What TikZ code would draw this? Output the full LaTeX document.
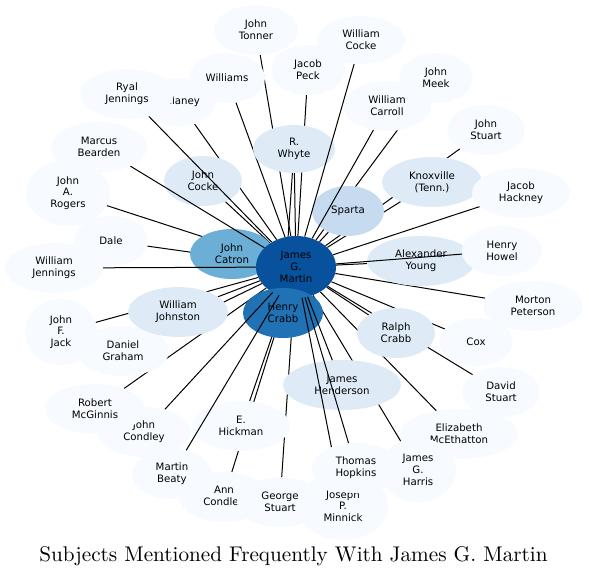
\documentclass[tikz,border=0pt]{standalone}
\usepackage{fontspec}
\newfontfamily\labelfont{DejaVu Sans}
\newfontfamily\titlefont{lmroman10-regular}[Extension=.otf]
\usetikzlibrary{shapes.geometric}
\pgfdeclarelayer{edgelow}
\pgfdeclarelayer{nodelow}
\pgfdeclarelayer{edgehigh}
\pgfsetlayers{edgelow,nodelow,edgehigh,main}
\definecolor{blue0}{HTML}{F7FBFF}
\definecolor{blue1}{HTML}{DEEBF7}
\definecolor{blue2}{HTML}{C6DBEF}
\definecolor{blue4}{HTML}{6BAED6}
\definecolor{blue6}{HTML}{2171B5}
\definecolor{blue7}{HTML}{08519C}
\begin{document}
\begin{tikzpicture}[x=1pt, y=-1pt, line join=round, line cap=round,
	subject/.style={ellipse, inner sep=0pt, align=center, font=\labelfont\fontsize{10.2}{11.8}\selectfont},
	link/.style={line width=1pt}]
	\useasboundingbox (0,0) rectangle (589,577);
	% Các nút nằm dưới một số cạnh
	\begin{pgfonlayer}{nodelow}
	\foreach \n/\x/\y/\rx/\ry/\col/\txt in {
		delaney/179/102/37/24/blue0/Delaney, jcocke/203/181/39/25/blue1/{John\\Cocke},
		whyte/294/149/41/24/blue1/{R.\\Whyte}, carroll/387/106/44/25/blue0/{William\\Carroll},
		knox/432/182/50/25/blue1/{Knoxville\\(Tenn.)}, sparta/348/211/36/25/blue2/Sparta,
		catron/232/254/42/25/blue4/{John\\Catron}, young/421/261/54/25/blue1/{Alexander\\Young},
		graham/123/351/46/25/blue0/{Daniel\\Graham}, johnston/178/312/50/25/blue1/{William\\Johnston},
		rcrabb/396/333/39/25/blue1/{Ralph\\Crabb}, henderson/342/385/59/25/blue1/{James\\Henderson},
		hickman/241/426/49/25/blue0/{E.\\Hickman}, martin/296/267/40/31/blue7/{James\\G.\\Martin},
		hcrabb/283/313/40/25/blue6/{Henry\\Crabb}}
	\node[subject, fill=\col, minimum width=2*\rx, minimum height=2*\ry] (\n) at (\x,\y) {\txt};
	\end{pgfonlayer}
	% Các nút ngoài cùng
	\foreach \n/\x/\y/\rx/\ry/\txt in {
		tonner/256/30/42/25/{John\\Tonner}, wcocke/361/40/44/24/{William\\Cocke},
		peck/308/70/37/25/{Jacob\\Peck}, williams/227/78/38/25/Williams,
		meek/436/78/37/25/{John\\Meek}, ryal/127/94/47/25/{Ryal\\Jennings},
		bearden/99/147/48/25/{Marcus\\Bearden}, rogers/68/193/42/33/{John\\A.\\Rogers},
		jstuart/486/130/39/25/{John\\Stuart}, hackney/521/193/49/25/{Jacob\\Hackney},
		dale/111/241/37/25/Dale, wjennings/54/268/49/25/{William\\Jennings},
		howel/502/251/40/25/{Henry\\Howel}, peterson/533/306/50/25/{Morton\\Peterson},
		jack/61/332/36/33/{John\\F.\\Jack}, cox/476/342/37/24/Cox,
		dstuart/501/392/39/25/{David\\Stuart}, condley/144/432/47/25/{John\\Condley},
		mcginnis/95/409/50/25/{Robert\\McGinnis}, beaty/172/474/40/25/{Martin\\Beaty},
		acondley/224/497/45/25/{Ann\\Condley}, gstuart/280/502/43/25/{George\\Stuart},
		minnick/343/506/45/34/{Joseph\\P.\\Minnick}, hopkins/356/468/44/25/{Thomas\\Hopkins},
		mcethatton/459/434/59/25/{Elizabeth\\McEthatton}, harris/418/470/38/32/{James\\G.\\Harris}}
	\node[subject, fill=blue0, minimum width=2*\rx, minimum height=2*\ry] (\n) at (\x,\y) {\txt};
	% Cạnh nối
	\begin{pgfonlayer}{edgelow}
	\foreach \s in {tonner, peck, meek, jstuart, knox, hackney, peterson, rcrabb, cox, dstuart,
		mcethatton, harris, gstuart, acondley, hickman, mcginnis, jack, graham, johnston, dale,
		rogers, delaney, williams, jcocke, whyte, catron, sparta, young}
	\draw[link] (\s) -- (martin);
	\draw[link] (whyte) -- (hcrabb);
	\end{pgfonlayer}
	\begin{pgfonlayer}{edgehigh}
	\foreach \s in {wjennings, bearden, ryal, wcocke, carroll, howel, minnick, hopkins, henderson, condley, beaty}
	\draw[link] (\s) -- (martin);
	\end{pgfonlayer}
	\node[anchor=base, font=\titlefont\fontsize{21.2}{25}\selectfont] (title) at (293.5,561.5) {Subjects Mentioned Frequently With James G. Martin};
\end{tikzpicture}
\end{document}
